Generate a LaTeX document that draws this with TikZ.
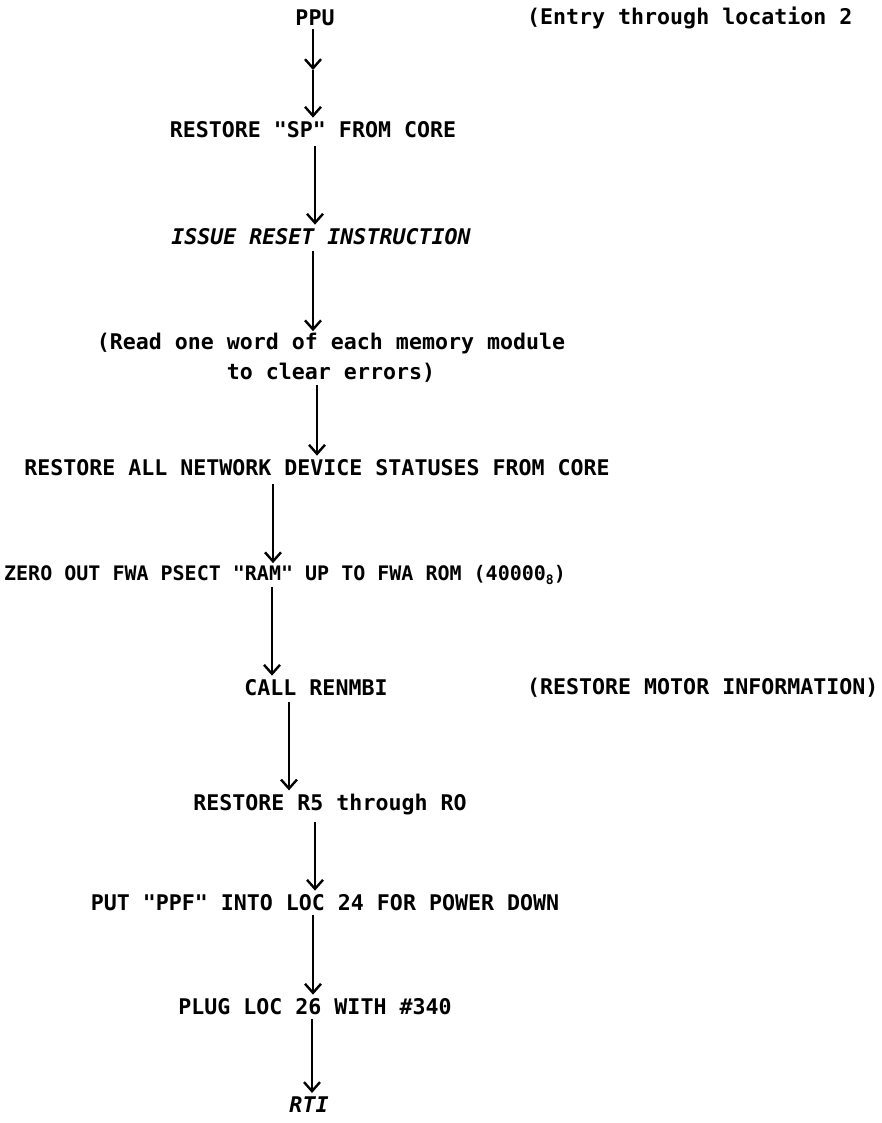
\documentclass[tikz,border=0pt]{standalone}
\usepackage{fontspec}
\setmonofont{DejaVu Sans Mono}
\usetikzlibrary{arrows.meta}
\begin{document}
\begin{tikzpicture}[x=1pt,y=-1pt,
  lbl/.style={inner sep=0pt,font=\ttfamily\bfseries\fontsize{21.6}{30}\selectfont},
  arr/.style={line width=2.4pt,-{Straight Barb[length=9pt,width=16pt,line width=2.4pt]}}]
\useasboundingbox[fill=white] (0,0) rectangle (882,1123);
\node[lbl] (ppu) at (315,18) {PPU};
\node[lbl,anchor=west] (entry) at (527,18) {(Entry through location 2};
\node[lbl] (sp) at (313,130) {RESTORE "SP" FROM CORE};
\node[lbl] (reset) at (321,237) {\itshape ISSUE RESET INSTRUCTION};
\node[lbl,align=center] (read) at (331,358) {(Read one word of each memory module\\to clear errors)};
\node[lbl] (net) at (317,468) {RESTORE ALL NETWORK DEVICE STATUSES FROM CORE};
\node[lbl,font=\ttfamily\bfseries\fontsize{20}{30}\selectfont] (zero) at (285,575) {ZERO OUT FWA PSECT "RAM" UP TO FWA ROM (40000\raisebox{-4pt}{\fontsize{13}{13}\selectfont 8})};
\node[lbl] (call) at (316,688) {CALL RENMBI};
\node[lbl,anchor=west] (motor) at (527,688) {(RESTORE MOTOR INFORMATION)};
\node[lbl] (regs) at (330,805) {RESTORE R5 through RO};
\node[lbl] (ppf) at (325,903) {PUT "PPF" INTO LOC 24 FOR POWER DOWN};
\node[lbl] (plug) at (315,1007) {PLUG LOC 26 WITH \#340};
\node[lbl] (rti) at (309,1105) {\itshape RTI};
\coordinate (mid) at (313,70);
\draw[arr] ([yshift=-3pt]ppu.south -| mid) -- (mid);
\draw[arr] (mid) -- ([yshift=4pt]sp.north -| mid);
\draw[arr] ([yshift=-8pt]sp.south -| 315,0) -- ([yshift=4pt]reset.north -| 315,0);
\draw[arr] ([yshift=-6pt]reset.south -| 313,0) -- ([yshift=2pt]read.north -| 313,0);
\draw[arr] ([yshift=-2pt]read.south -| 317,0) -- ([yshift=4pt]net.north -| 317,0);
\draw[arr] ([yshift=-8pt]net.south -| 273,0) -- ([yshift=2pt]zero.north -| 273,0);
\draw[arr] ([yshift=-2pt]zero.south -| 272,0) -- ([yshift=4pt]call.north -| 272,0);
\draw[arr] ([yshift=-6pt]call.south -| 289,0) -- ([yshift=4pt]regs.north -| 289,0);
\draw[arr] ([yshift=-6pt]regs.south -| 315,0) -- ([yshift=4pt]ppf.north -| 315,0);
\draw[arr] ([yshift=-4pt]ppf.south -| 313,0) -- ([yshift=4pt]plug.north -| 313,0);
\draw[arr] ([yshift=-4pt]plug.south -| 312,0) -- ([yshift=4pt]rti.north -| 312,0);
\end{tikzpicture}
\end{document}
